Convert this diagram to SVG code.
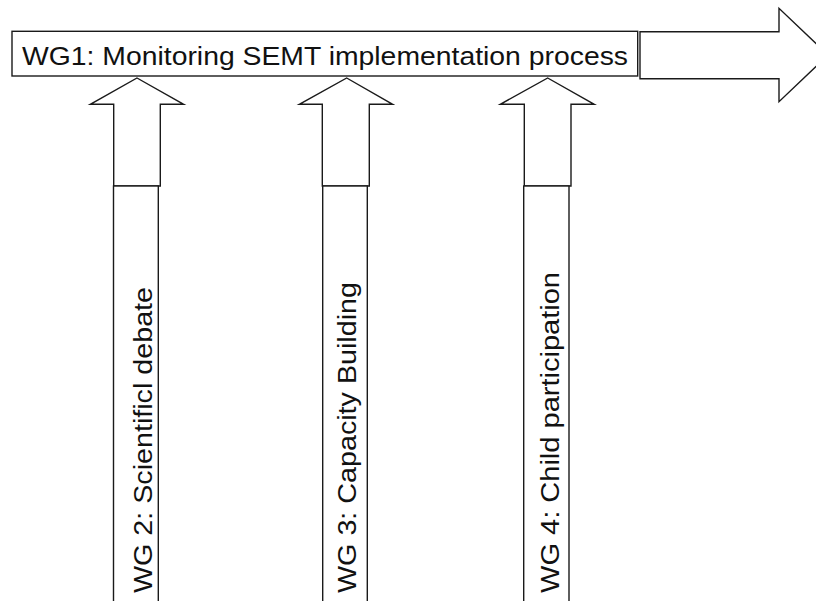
<svg xmlns="http://www.w3.org/2000/svg" width="816" height="601" viewBox="0 0 816 601">
<style>
.s{fill:#fff;stroke:#1a1a1a;stroke-width:1.4}
.t{font-family:"Liberation Sans",Arial,sans-serif;font-size:25px;fill:#111}
.v{font-family:"Liberation Sans",Arial,sans-serif;font-size:25px;fill:#111}
</style>
<rect width="816" height="601" fill="#fff"/>
<g id="connectors">
<polygon id="big-arrow" class="s" points="640,31.7 779,31.7 779,8.3 828,55 779,101.7 779,78.7 640,78.7"/>
<polygon class="s" points="137,78 183.7,104.3 160.3,104.3 160.3,186 113.7,186 113.7,104.3 90.3,104.3"/>
<polygon class="s" points="346.7,78 392.7,104.3 369.3,104.3 369.3,186 322.3,186 322.3,104.3 299.3,104.3"/>
<polygon class="s" points="547.7,78 594.3,104.3 571,104.3 571,186 524.3,186 524.3,104.3 500.3,104.3"/>
</g>
<g id="wg1">
<rect class="s" x="12" y="31.3" width="625.7" height="44.7"/>
<text class="t" x="22" y="65" textLength="606" lengthAdjust="spacingAndGlyphs">WG1: Monitoring SEMT implementation process</text>
</g>
<g id="wg2">
<rect class="s" x="113.5" y="186" width="44.8" height="430"/>
<text class="v" transform="translate(152,593) rotate(-90)" textLength="306" lengthAdjust="spacingAndGlyphs">WG 2: Scientificl debate</text>
</g>
<g id="wg3">
<rect class="s" x="322.7" y="186" width="44.6" height="430"/>
<text class="v" transform="translate(356,593) rotate(-90)" textLength="311" lengthAdjust="spacingAndGlyphs">WG 3: Capacity Building</text>
</g>
<g id="wg4">
<rect class="s" x="523.7" y="186" width="45.3" height="430"/>
<text class="v" transform="translate(559,593) rotate(-90)" textLength="321" lengthAdjust="spacingAndGlyphs">WG 4: Child participation</text>
</g>
</svg>
